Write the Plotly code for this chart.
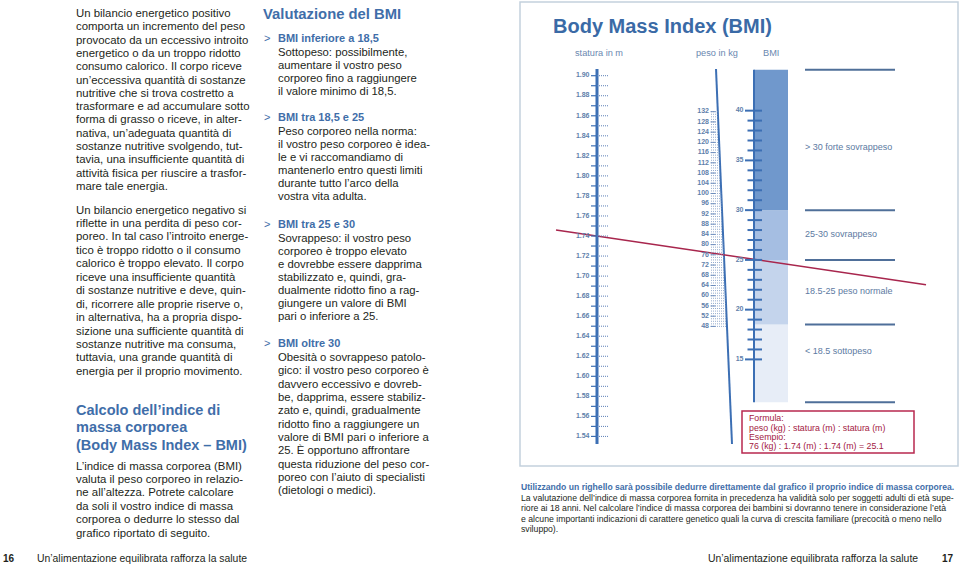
import plotly.graph_objects as go

# ---------------- data ----------------
height_labels = ["1.54", "1.56", "1.58", "1.60", "1.62", "1.64", "1.66", "1.68", "1.70",
                 "1.72", "1.74", "1.76", "1.78", "1.80", "1.82", "1.84", "1.86", "1.88", "1.90"]
height_minor = [1.55, 1.57, 1.59, 1.61, 1.63, 1.65, 1.67, 1.69, 1.71, 1.73, 1.75, 1.77,
                1.79, 1.81, 1.83, 1.85, 1.87, 1.89]
weight_labels = [48, 52, 56, 60, 64, 68, 72, 76, 80, 84, 88, 92, 96, 100, 104, 108,
                 112, 116, 120, 124, 128, 132]
weight_step_kg = 1
bmi_major = [15, 20, 25, 30, 35, 40]
bmi_minor = [16, 17, 18, 19, 21, 22, 23, 24, 26, 27, 28, 29, 31, 32, 33, 34, 36, 37, 38, 39]
bmi_bounds = [10.7, 18.5, 25, 30, 44.1]
bmi_categories = ["< 18.5 sottopeso", "18.5-25 peso normale", "25-30 sovrappeso",
                  "> 30 forte sovrappeso"]
bmi_label_at = [15.8, 21.75, 27.5, 36.3]
bmi_colors = ["#e7edf7", "#c4d4ec", "#a5bee2", "#7098cc"]
example_height = 1.74
example_weight = 76
example_bmi = 25.1

# ---------------- scales (pixel frame 960 x 564) ----------------
W, H = 960, 564
H_PX_PER_M, H_REF, H_REF_PX = 1002.0, 1.90, 75.7
W_PX_PER_KG, W_REF, W_REF_PX = 2.556, 132, 111.7
B_PX_PER_U, B_REF, B_REF_PX = 9.95, 25, 259.9


def h_px(h):
    return H_REF_PX + (H_REF - h) * H_PX_PER_M


def w_px(w):
    return W_REF_PX + (W_REF - w) * W_PX_PER_KG


def range_for(ref, ref_px, per):
    return [ref - (H - ref_px) / per, ref + ref_px / per]


X_HEIGHT = 597
WLINE = (716, 69, 732, 444)   # slanted weight scale (x_top, y_top, x_bottom, y_bottom)
X_BMI, X_BMI_R = 754, 788


def wline_x(py):
    x0, y0, x1, y1 = WLINE
    return x0 + (x1 - x0) * (py - y0) / (y1 - y0)


BLUE = "#3c6fb4"
LBL = "#5f7fab"
TXT = "#231f20"
HEAD = "#3f6ea9"
RED = "#a8264d"
FONT = "Liberation Sans, Arial, sans-serif"

fig = go.Figure()

# ---- height scale (y2) ----
fig.add_trace(go.Scatter(x=[X_HEIGHT, X_HEIGHT], y=[1.5325, 1.9067], yaxis="y2", mode="lines",
                         line=dict(color=BLUE, width=3), hoverinfo="skip"))
hvals = [float(v) for v in height_labels] + height_minor
sx, sy, dx, dy = [], [], [], []
for v in hvals:
    sx += [591, X_HEIGHT, None]
    sy += [v, v, None]
    dx += [X_HEIGHT, 608, None]
    dy += [v, v, None]
fig.add_trace(go.Scatter(x=sx, y=sy, yaxis="y2", mode="lines",
                         line=dict(color=BLUE, width=1.2), hoverinfo="skip"))
fig.add_trace(go.Scatter(x=dx, y=dy, yaxis="y2", mode="lines",
                         line=dict(color="#5b7fb6", width=1, dash="1px,1px"), hoverinfo="skip"))
fig.add_trace(go.Scatter(x=[589.5] * len(height_labels), y=[float(v) for v in height_labels],
                         yaxis="y2", mode="text", text=height_labels, textposition="middle left",
                         textfont=dict(family=FONT, size=7, color=LBL, weight="bold"),
                         hoverinfo="skip"))

# ---- weight scale (y3, slanted line) ----
fig.add_trace(go.Scatter(x=[WLINE[0], WLINE[2]], y=[WLINE[1], WLINE[3]], mode="lines",
                         line=dict(color=BLUE, width=2), hoverinfo="skip"))
wx, wy, mx, my = [], [], [], []
for w in range(weight_labels[0], weight_labels[-1] + 1, weight_step_kg):
    xe = wline_x(w_px(w))
    wx += [711, xe, None]
    wy += [w, w, None]
for w in weight_labels:
    mx += [710.5, 715.5, None]
    my += [w, w, None]
fig.add_trace(go.Scatter(x=wx, y=wy, yaxis="y3", mode="lines",
                         line=dict(color="#7a97c2", width=0.8, dash="1px,1px"), hoverinfo="skip"))
fig.add_trace(go.Scatter(x=mx, y=my, yaxis="y3", mode="lines",
                         line=dict(color="#6c8cbc", width=1), hoverinfo="skip"))
fig.add_trace(go.Scatter(x=[709] * len(weight_labels), y=weight_labels, yaxis="y3", mode="text",
                         text=[str(w) for w in weight_labels], textposition="middle left",
                         textfont=dict(family=FONT, size=7, color=LBL, weight="bold"),
                         hoverinfo="skip"))

# ---- BMI scale (y4) ----
for i in range(len(bmi_categories)):
    fig.add_shape(type="rect", xref="x", yref="y4", x0=X_BMI, x1=X_BMI_R,
                  y0=bmi_bounds[i], y1=bmi_bounds[i + 1], fillcolor=bmi_colors[i],
                  line=dict(width=0), layer="below")
for b in bmi_bounds:
    fig.add_shape(type="line", xref="x", yref="y4", x0=805, x1=895, y0=b, y1=b,
                  line=dict(color="#4f6f99", width=2))
fig.add_trace(go.Scatter(x=[X_BMI, X_BMI], y=[bmi_bounds[0], bmi_bounds[-1]], yaxis="y4",
                         mode="lines", line=dict(color=BLUE, width=2), hoverinfo="skip"))
bx, by = [], []
for b in bmi_major:
    bx += [745, 762, None]
    by += [b, b, None]
for b in bmi_minor:
    bx += [747.5, 762, None]
    by += [b, b, None]
fig.add_trace(go.Scatter(x=bx, y=by, yaxis="y4", mode="lines",
                         line=dict(color=BLUE, width=2), hoverinfo="skip"))
fig.add_trace(go.Scatter(x=[743.5] * len(bmi_major), y=bmi_major, yaxis="y4", mode="text",
                         text=[str(b) for b in bmi_major], textposition="middle left",
                         textfont=dict(family=FONT, size=7, color=LBL, weight="bold"),
                         hoverinfo="skip"))
fig.add_trace(go.Scatter(x=[805] * len(bmi_categories), y=bmi_label_at, yaxis="y4", mode="text",
                         text=bmi_categories, textposition="middle right",
                         textfont=dict(family=FONT, size=9, color="#5d7aa2"), hoverinfo="skip"))

# ---- example line through height & weight ----
ax_, ay_ = X_HEIGHT, h_px(example_height)
bx_, by_ = wline_x(w_px(example_weight)), w_px(example_weight)
slope = (by_ - ay_) / (bx_ - ax_)
xl = [556, 926]
fig.add_trace(go.Scatter(x=xl, y=[ay_ + slope * (x - ax_) for x in xl], mode="lines",
                         line=dict(color=RED, width=1.5), hoverinfo="skip"))

# ---- frames ----
fig.add_shape(type="rect", xref="x", yref="y", x0=520, x1=958, y0=2, y1=466,
              line=dict(color="#c3d1dd", width=1.5), layer="below")
fig.add_shape(type="rect", xref="x", yref="y", x0=742, x1=914, y0=411, y1=453,
              line=dict(color="#b8284f", width=1.5), fillcolor="white")

ann = []


def add_text(x, y, s, size, color=TXT, bold=False, anchor="left"):
    ann.append(dict(x=x, y=y, xref="x", yref="y", text=s, showarrow=False,
                    xanchor=anchor, yanchor="middle", align=anchor,
                    font=dict(family=FONT, size=size, color=color,
                              weight="bold" if bold else "normal"),
                    borderpad=0))


def add_block(x, y0, step, lines, size, color=TXT, bold=False):
    for i, s in enumerate(lines):
        add_text(x, y0 + i * step, s, size, color, bold)


add_text(552, 26, "Body Mass Index (BMI)", 20, "#3a6aa6", True)
add_text(574, 53, "statura in m", 9.2, "#6a88b0")
add_text(695, 53, "peso in kg", 9.2, "#6a88b0")
add_text(762, 53, "BMI", 9.2, "#6a88b0")

add_block(748, 418.3, 9.3, ["Formula:", "peso (kg) : statura (m) : statura (m)", "Esempio:",
                            f"{example_weight} (kg) : {example_height} (m) : {example_height} (m) = {example_bmi}"],
          8.8, "#a3203f")

left1 = ["Un bilancio energetico positivo", "comporta un incremento del peso",
         "provocato da un eccessivo introito", "energetico o da un troppo ridotto",
         "consumo calorico. Il corpo riceve", "un’eccessiva quantità di sostanze",
         "nutritive che si trova costretto a", "trasformare e ad accumulare sotto",
         "forma di grasso o riceve, in alter-", "nativa, un’adeguata quantità di",
         "sostanze nutritive svolgendo, tut-", "tavia, una insufficiente quantità di",
         "attività fisica per riuscire a trasfor-", "mare tale energia."]
left2 = ["Un bilancio energetico negativo si", "riflette in una perdita di peso cor-",
         "poreo. In tal caso l’introito energe-", "tico è troppo ridotto o il consumo",
         "calorico è troppo elevato. Il corpo", "riceve una insufficiente quantità",
         "di sostanze nutritive e deve, quin-", "di, ricorrere alle proprie riserve o,",
         "in alternativa, ha a propria dispo-", "sizione una sufficiente quantità di",
         "sostanze nutritive ma consuma,", "tuttavia, una grande quantità di",
         "energia per il proprio movimento."]
left_head = ["Calcolo dell’indice di", "massa corporea", "(Body Mass Index – BMI)"]
left3 = ["L’indice di massa corporea (BMI)", "valuta il peso corporeo in relazio-",
         "ne all’altezza. Potrete calcolare", "da soli il vostro indice di massa",
         "corporea o dedurre lo stesso dal", "grafico riportato di seguito."]
add_block(75, 13, 13.3, left1, 11.4)
add_block(75, 209.5, 13.45, left2, 11.4)
add_block(75, 409.5, 17.5, left_head, 14.5, HEAD, True)
add_block(75, 465.5, 13.4, left3, 11.4)

add_text(262, 13.5, "Valutazione del BMI", 14.8, HEAD, True)
sections = [
    (38.3, 13.1, "BMI inferiore a 18,5",
     ["Sottopeso: possibilmente,", "aumentare il vostro peso", "corporeo fino a raggiungere",
      "il valore minimo di 18,5."]),
    (117.3, 13.0, "BMI tra 18,5 e 25",
     ["Peso corporeo nella norma:", "il vostro peso corporeo è idea-", "le e vi raccomandiamo di",
      "mantenerlo entro questi limiti", "durante tutto l’arco della", "vostra vita adulta."]),
    (224.3, 13.07, "BMI tra 25 e 30",
     ["Sovrappeso: il vostro peso", "corporeo è troppo elevato", "e dovrebbe essere dapprima",
      "stabilizzato e, quindi, gra-", "dualmente ridotto fino a rag-", "giungere un valore di BMI",
      "pari o inferiore a 25."]),
    (343.3, 13.33, "BMI oltre 30",
     ["Obesità o sovrappeso patolo-", "gico: il vostro peso corporeo è",
      "davvero eccessivo e dovreb-", "be, dapprima, essere stabiliz-",
      "zato e, quindi, gradualmente", "ridotto fino a raggiungere un",
      "valore di BMI pari o inferiore a", "25. È opportuno affrontare",
      "questa riduzione del peso cor-", "poreo con l’aiuto di specialisti",
      "(dietologi o medici)."]),
]
for y0, step, head, body in sections:
    add_text(263, y0, "&gt;", 11, HEAD)
    add_text(277, y0, head, 11, HEAD, True)
    add_block(277, y0 + 13.6, step, body, 11.3)

add_text(520, 486.7, "Utilizzando un righello sarà possibile dedurre direttamente dal grafico "
         "il proprio indice di massa corporea.", 8.6, HEAD, True)
add_block(520, 497.7, 10.4, [
    "La valutazione dell’indice di massa corporea fornita in precedenza ha validità solo per "
    "soggetti adulti di età supe-",
    "riore ai 18 anni. Nel calcolare l’indice di massa corporea dei bambini si dovranno tenere "
    "in considerazione l’età",
    "e alcune importanti indicazioni di carattere genetico quali la curva di crescita familiare "
    "(precocità o meno nello",
    "sviluppo)."], 8.7)

add_text(2, 558, "16", 10, TXT, True)
add_text(36, 558, "Un’alimentazione equilibrata rafforza la salute", 10.4)
add_text(919, 558, "Un’alimentazione equilibrata rafforza la salute", 10.4, anchor="right")
add_text(955, 558, "17", 10, TXT, True, anchor="right")

hidden = dict(visible=False, fixedrange=True)
fig.update_layout(
    width=W, height=H, margin=dict(l=0, r=0, t=0, b=0, pad=0),
    paper_bgcolor="white", plot_bgcolor="white", showlegend=False,
    annotations=ann,
    xaxis=dict(range=[0, W], **hidden),
    yaxis=dict(range=[H, 0], **hidden),
    yaxis2=dict(range=range_for(H_REF, H_REF_PX, H_PX_PER_M), overlaying="y", **hidden),
    yaxis3=dict(range=range_for(W_REF, W_REF_PX, W_PX_PER_KG), overlaying="y", **hidden),
    yaxis4=dict(range=range_for(B_REF, B_REF_PX, B_PX_PER_U), overlaying="y", **hidden),
)
fig.write_html("out.html", config={"displayModeBar": False},
               post_script="document.body.style.margin='0';document.body.style.overflow='hidden';")
